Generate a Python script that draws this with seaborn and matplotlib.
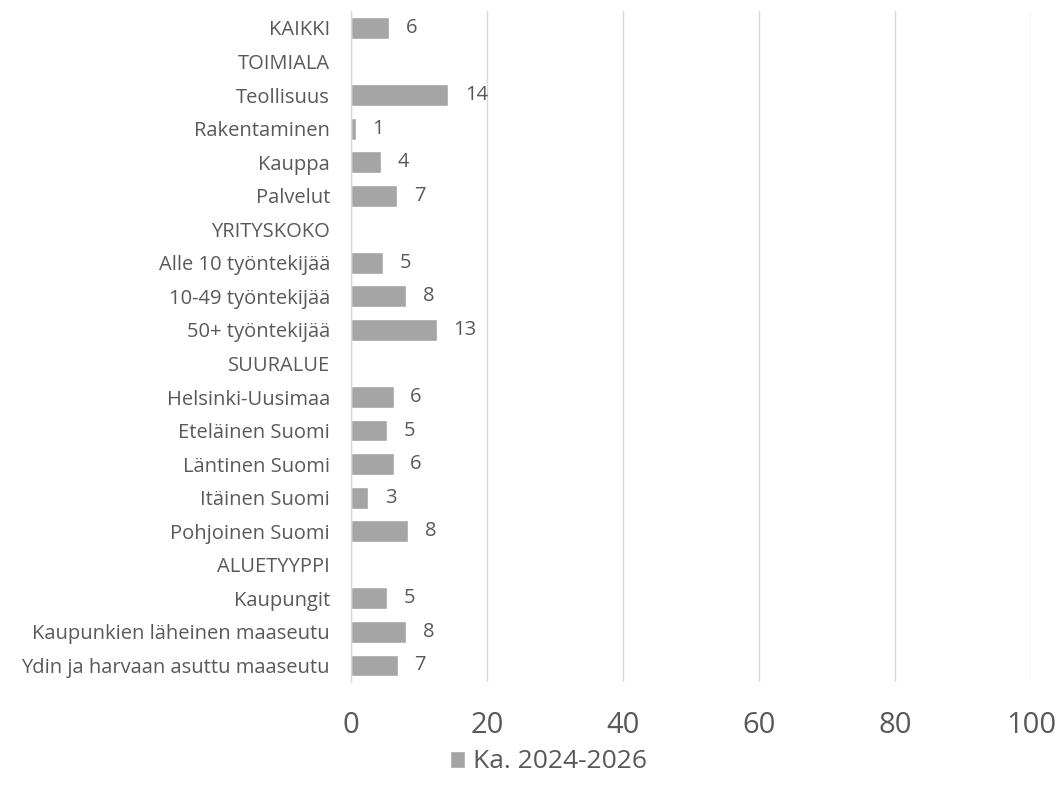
import numpy as np
import pandas as pd
import matplotlib
matplotlib.use("Agg")
import matplotlib.pyplot as plt
import seaborn as sns

# Data (header rows have no value)
categories = [
    "KAIKKI", "TOIMIALA", "Teollisuus", "Rakentaminen", "Kauppa", "Palvelut",
    "YRITYSKOKO", "Alle 10 työntekijää", "10-49 työntekijää", "50+ työntekijää",
    "SUURALUE", "Helsinki-Uusimaa", "Eteläinen Suomi", "Läntinen Suomi",
    "Itäinen Suomi", "Pohjoinen Suomi", "ALUETYYPPI", "Kaupungit",
    "Kaupunkien läheinen maaseutu", "Ydin ja harvaan asuttu maaseutu",
]
values = [
    5.6, np.nan, 14.3, 0.7, 4.4, 6.8,
    np.nan, 4.7, 8.1, 12.6,
    np.nan, 6.3, 5.3, 6.3, 2.6, 8.4,
    np.nan, 5.3, 8.1, 6.9,
]
series_name = "Ka. 2024-2026"
x_ticks = [0, 20, 40, 60, 80, 100]

df = pd.DataFrame({"category": categories, "value": values, "series": series_name})

sns.set_style("white")
plt.rcParams["font.family"] = ["Open Sans", "DejaVu Sans"]

text_color = "#595959"
bar_color = "#A5A5A5"

fig = plt.figure(figsize=(10.63, 7.97), dpi=100)
ax = fig.add_axes([0.330, 0.144, 0.640, 0.842])

sns.barplot(data=df, y="category", x="value", hue="series", orient="h",
            palette=[bar_color], width=0.65, ax=ax, legend=True)

# data labels (rounded), skipped for header rows
for i, v in enumerate(values):
    if np.isnan(v):
        continue
    ax.annotate(f"{v:.0f}", xy=(v, i), xytext=(12, 0), textcoords="offset points",
                va="center", ha="left", fontsize=14.5, color=text_color)

ax.set_xlim(0, 100)
ax.set_xticks(x_ticks)
ax.set_xticklabels([str(t) for t in x_ticks], fontsize=21, color=text_color)
ax.tick_params(axis="x", length=0, pad=21)
ax.tick_params(axis="y", length=0, pad=15, labelsize=14.5, labelcolor=text_color)
ax.set_xlabel("")
ax.set_ylabel("")

ax.grid(axis="x", color="#D9D9D9", linewidth=1)
ax.set_axisbelow(True)
for side in ["top", "right", "bottom"]:
    ax.spines[side].set_visible(False)
ax.spines["left"].set_color("#D9D9D9")
ax.spines["left"].set_linewidth(1)

handles, labels = ax.get_legend_handles_labels()
ax.get_legend().remove()
fig.legend(handles, labels, loc="center", bbox_to_anchor=(0.516, 0.044),
           frameon=False, fontsize=19, handlelength=0.6, handleheight=0.6,
           handletextpad=0.3, labelcolor=text_color)

plt.savefig("out.png", dpi=100)
plt.close()
